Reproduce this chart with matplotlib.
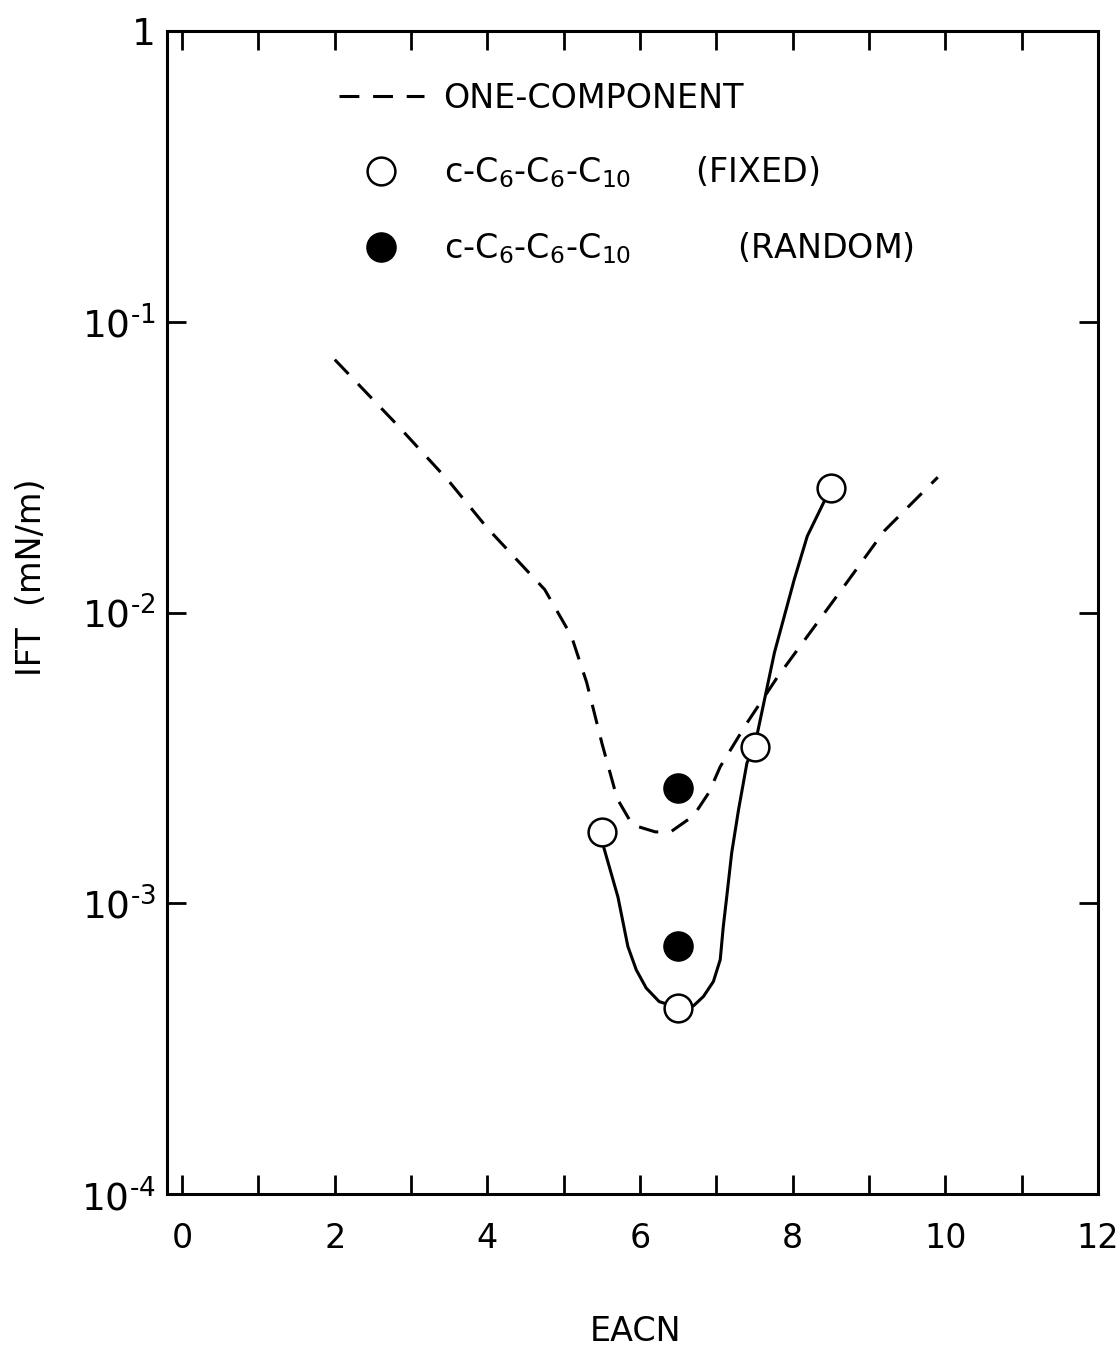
import matplotlib
matplotlib.use('Agg')
import matplotlib.pyplot as plt
from matplotlib.ticker import FixedLocator, NullLocator, FixedFormatter

# open circles, c-C6-C6-C10 (fixed)
fixed_x = [5.5, 6.5, 7.5, 8.5]
fixed_y = [1.76e-3, 4.37e-4, 3.46e-3, 2.69e-2]

# filled circles, c-C6-C6-C10 (random)
random_x = [6.5, 6.5]
random_y = [2.50e-3, 7.14e-4]

# hand-drawn curve through the open circles
fit_x = [5.5, 5.52, 5.71, 5.84, 5.95, 6.08, 6.25, 6.5, 6.70, 6.83, 6.96, 7.05,
         7.09, 7.14, 7.20, 7.29, 7.40, 7.5, 7.76, 8.02, 8.19, 8.5]
fit_y = [1.76e-3, 1.57e-3, 1.05e-3, 7.10e-4, 5.90e-4, 5.11e-4, 4.59e-4, 4.37e-4,
         4.44e-4, 4.78e-4, 5.38e-4, 6.40e-4, 8.32e-4, 1.08e-3, 1.49e-3, 2.10e-3,
         3.04e-3, 3.46e-3, 7.28e-3, 1.30e-2, 1.83e-2, 2.69e-2]

# one-component curve (dashed)
one_x = [2.0, 2.8, 3.5, 4.0, 4.5, 4.75, 5.1, 5.3, 5.5, 5.7, 5.9, 6.2, 6.4,
         6.7, 6.9, 7.05, 7.4, 7.8, 8.7, 9.2, 9.9]
one_y = [7.41e-2, 4.47e-2, 2.82e-2, 1.95e-2, 1.41e-2, 1.20e-2, 8.3e-3, 5.75e-3,
         3.55e-3, 2.29e-3, 1.86e-3, 1.76e-3, 1.76e-3, 2.0e-3, 2.4e-3, 2.95e-3,
         4.17e-3, 6.0e-3, 1.26e-2, 1.91e-2, 2.92e-2]

xticks = [0, 2, 4, 6, 8, 10, 12]
xminor = [1, 3, 5, 7, 9, 11]
yticks = [1e-4, 1e-3, 1e-2, 1e-1, 1]
ylabels = [r'$\mathregular{10^{\text{-}4}}$', r'$\mathregular{10^{\text{-}3}}$',
           r'$\mathregular{10^{\text{-}2}}$', r'$\mathregular{10^{\text{-}1}}$', '1']

plt.rcParams['font.family'] = ['DejaVu Sans']

fig = plt.figure(figsize=(11.2, 13.51), dpi=100)
ax = fig.add_axes([0.149, 0.1162, 0.8314, 0.8608])

ax.plot(one_x, one_y, color='black', lw=2.2, dashes=(6.5, 4.5),
        label='ONE-COMPONENT', zorder=2)
ax.plot(fit_x, fit_y, color='black', lw=2.2, zorder=2)
ax.plot(fixed_x, fixed_y, 'o', ms=20, mfc='white', mec='black', mew=1.8,
        label=r'c-C$\mathregular{_6}$-C$\mathregular{_6}$-C$\mathregular{_{10}}$      (FIXED)',
        zorder=3)
ax.plot(random_x, random_y, 'o', ms=21, mfc='black', mec='black',
        label=r'c-C$\mathregular{_6}$-C$\mathregular{_6}$-C$\mathregular{_{10}}$          (RANDOM)',
        zorder=3)

ax.set_yscale('log')
ax.set_xlim(-0.2, 12)
ax.set_ylim(1e-4, 1)

ax.xaxis.set_major_locator(FixedLocator(xticks))
ax.xaxis.set_minor_locator(FixedLocator(xminor))
ax.yaxis.set_major_locator(FixedLocator(yticks))
ax.yaxis.set_major_formatter(FixedFormatter(ylabels))
ax.yaxis.set_minor_locator(NullLocator())

ax.tick_params(axis='both', which='both', direction='in', length=14, width=2,
               top=True, right=True)
ax.tick_params(axis='x', which='major', labelsize=24, pad=20)
ax.tick_params(axis='y', which='major', labelsize=27, pad=8)

for s in ax.spines.values():
    s.set_linewidth(2.2)

ax.set_xlabel('EACN', fontsize=24)
ax.xaxis.set_label_coords(0.503, -0.104)
ax.set_ylabel('IFT  (mN/m)', fontsize=24)
ax.yaxis.set_label_coords(-0.128, 0.53)

ax.legend(loc='upper left', bbox_to_anchor=(0.17, 0.968), frameon=False,
          fontsize=24, handlelength=2.55, handletextpad=0.6, labelspacing=1.2,
          borderaxespad=0)

fig.savefig('out.png', dpi=100)
